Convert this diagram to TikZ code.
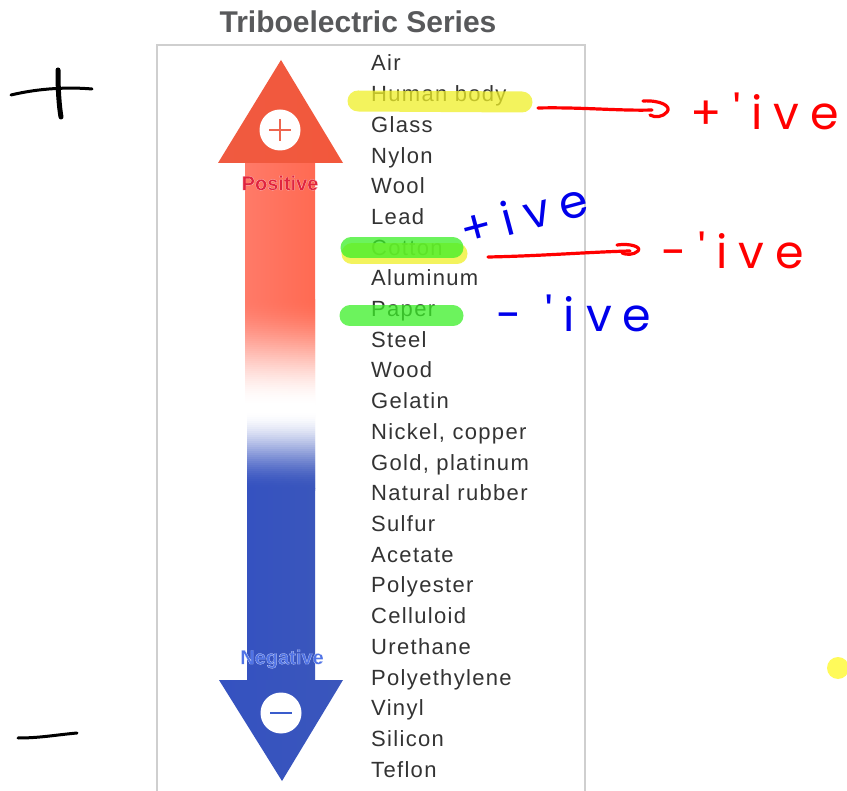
\documentclass[tikz,border=0pt]{standalone}
\usepackage{fontspec}
\setmainfont{Liberation Sans}
\newfontfamily\itemfont[LetterSpace=6]{Liberation Sans}
\newfontfamily\handfont[LetterSpace=24]{Poppins}
\usetikzlibrary{calc}
\definecolor{itemgray}{HTML}{333333}
\definecolor{titlegray}{HTML}{58595B}
\definecolor{boxgray}{HTML}{CFCFCF}
\definecolor{redL}{HTML}{FF7A68}
\definecolor{redC}{HTML}{FFA48E}
\definecolor{redR}{HTML}{FF6A52}
\definecolor{headL}{HTML}{F05A40}
\definecolor{headC}{HTML}{F78A70}
\definecolor{headR}{HTML}{F2583C}
\definecolor{bluL}{HTML}{3552C0}
\definecolor{bluC}{HTML}{5478DC}
\definecolor{bluR}{HTML}{3A56BC}
\definecolor{posred}{HTML}{E0243E}
\definecolor{negblue}{HTML}{5073E6}
\definecolor{signred}{HTML}{EE6650}
\definecolor{signblue}{HTML}{3A5CCC}
\definecolor{hlyellow}{RGB}{240,240,40}
\definecolor{hlgreen}{RGB}{60,240,40}
\definecolor{penred}{RGB}{255,0,0}
\definecolor{penblue}{RGB}{0,0,235}
\definecolor{dotyellow}{RGB}{255,250,90}
\newcommand{\halo}[1]{\special{pdf:literal direct 2 Tr 1 1 1 RG 0.12 w}#1\special{pdf:literal direct 0 Tr}}
\begin{document}
\begin{tikzpicture}[x=1pt,y=-1pt,
  item/.style={anchor=base west, inner sep=0pt, text=itemgray, font=\itemfont\fontsize{22}{23}\selectfont},
  titlestyle/.style={anchor=base, inner sep=0pt, text=titlegray, font=\bfseries\fontsize{30}{32}\selectfont},
  label/.style={inner sep=0pt, font=\bfseries\fontsize{20}{21}\selectfont},
  signcirc/.style={circle, fill=white, minimum size=41pt, inner sep=0pt},
  hl/.style={line width=21pt, line cap=round, opacity=0.75},
  redpen/.style={draw=penred, line width=3.2pt, line cap=round, line join=round},
  blackpen/.style={draw=black, line cap=round},
  hand/.style={inner sep=0pt, font=\handfont\fontsize{46}{48}\selectfont}]
\useasboundingbox (0,0) rectangle (847,791);
\fill[white] (0,0) rectangle (847,791);

% title and frame
\node[titlestyle] (title) at (358,33) {Triboelectric Series};
\draw[boxgray, line width=1.3pt] (157,791) -- (157,45) -- (585,45) -- (585,791);

% red arrow: solid part, fading bands, head
\shade[left color=redL, middle color=redC, right color=redR] (245,160) rectangle (315,301);
\foreach \j in {0,...,53}{
  \pgfmathsetmacro{\s}{(\j+0.5)/54}
  \pgfmathsetmacro{\p}{100*(1-(3*\s*\s-2*\s*\s*\s))}
  \shade[left color=redL!\p!white, middle color=redC!\p!white, right color=redR!\p!white] (245,300+2*\j) rectangle (315,302.6+2*\j);
}
\shade[left color=headL, middle color=headC, right color=headR] (218,163) -- (281,60) -- (343,163) -- cycle;
\node[signcirc] (plus) at (280,130) {};
\draw[signred, line width=2pt] ($(plus.center)+(-11,0)$) -- ($(plus.center)+(11,0)$);
\draw[signred, line width=2pt] ($(plus.center)+(0,-11)$) -- ($(plus.center)+(0,11)$);
\node[label, text=posred] (positive) at (280,183) {\halo{Positive}};

% blue arrow: fading bands, solid part, head
\foreach \j in {0,...,38}{
  \pgfmathsetmacro{\s}{(\j+0.5)/39}
  \pgfmathsetmacro{\p}{100*(3*\s*\s-2*\s*\s*\s)}
  \shade[left color=bluL!\p!white, middle color=bluC!\p!white, right color=bluR!\p!white] (247,412+2*\j) rectangle (315,414.6+2*\j);
}
\shade[left color=bluL, middle color=bluC, right color=bluR] (247,489) rectangle (315,682);
\shade[left color=bluL, middle color=bluC, right color=bluR] (219,680) -- (343,680) -- (282,781) -- cycle;
\node[signcirc] (minus) at (281,713) {};
\draw[signblue, line width=2.2pt] ($(minus.center)+(-11,0)$) -- ($(minus.center)+(11,0)$);
\node[label, text=negblue] (negative) at (282,659) {\halo{Negative}};

% list of materials
\foreach \t [count=\i from 0] in {Air, Human body, Glass, Nylon, Wool, Lead, Cotton, Aluminum, Paper, Steel, Wood, Gelatin, {Nickel, copper}, {Gold, platinum}, Natural rubber, Sulfur, Acetate, Polyester, Celluloid, Urethane, Polyethylene, Vinyl, Silicon, Teflon}
  \node[item] (it\i) at (371,71+30.7*\i) {\t};

% highlights
\draw[hl, hlyellow] (358,101) -- (522,102);
\draw[hl, hlyellow] (352,254) -- (457,254);
\draw[hl, hlgreen] (351,248) -- (453,248);
\draw[hl, hlgreen] (350,316) -- (453,316);

% handwritten annotations
\node[hand, text=penred] (posive) at (765,111) {+'ive};
\node[hand, text=penred] (negive) at (733,250) {-'ive};
\node[hand, text=penblue, rotate=15] (bposive) at (524,214) {+ive};
\node[hand, text=penblue] (bnegive) at (574,313) {- 'ive};

\coordinate (a1start) at (538,108);
\coordinate (a1end) at (652,110);
\draw[redpen] (a1start) .. controls (580,107) and (620,111) .. (a1end);
\draw[redpen] (643,101) .. controls (660,100) and (672,106) .. (667,112) .. controls (663,117) and (655,118) .. (650,115);
\coordinate (a2start) at (488,257);
\coordinate (a2end) at (630,251);
\draw[redpen] (a2start) .. controls (540,256) and (590,252) .. (a2end);
\draw[redpen] (617,245) .. controls (630,243) and (642,247) .. (638,251) .. controls (634,255) and (626,255) .. (622,253);

% left margin marks
\draw[blackpen, line width=3pt] (11,95) .. controls (40,88) and (70,87) .. (92,89);
\draw[blackpen, line width=5pt] (58,70) .. controls (58,90) and (59,105) .. (61,117);
\draw[blackpen, line width=3pt] (18,738) .. controls (40,738) and (55,735) .. (77,733);

% stray dot
\fill[dotyellow] (838,668) circle (11);
\end{tikzpicture}
\end{document}
